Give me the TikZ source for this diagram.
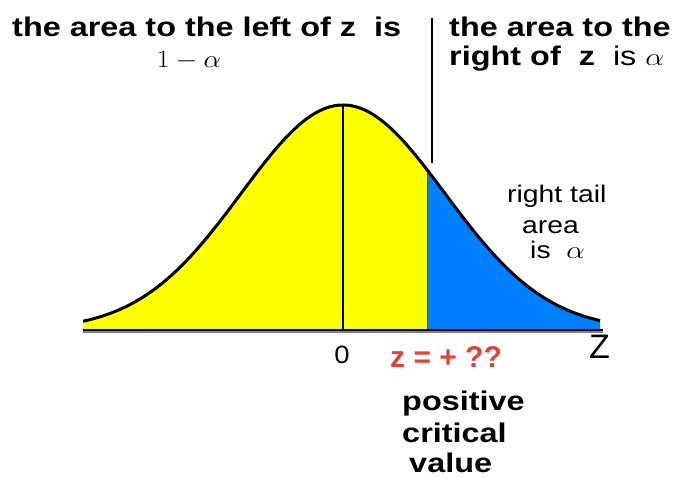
\documentclass[tikz,border=0pt]{standalone}
\usepackage{fontspec}
\setmainfont{Liberation Sans}

\definecolor{bodyyellow}{RGB}{255,255,0}
\definecolor{tailblue}{RGB}{0,128,255}
\definecolor{critred}{RGB}{221,68,55}

\tikzset{
  head/.style={font=\bfseries\fontsize{27}{30}\selectfont, xscale=1.2, inner sep=0pt, anchor=base west},
  note/.style={font=\fontsize{24}{26}\selectfont, xscale=1.18, inner sep=0pt, anchor=base west},
  plain/.style={inner sep=0pt, anchor=base west},
  curve/.style={line width=3pt, line join=round},
}

\begin{document}
\begin{tikzpicture}[x=1pt, y=1pt,
    declare function={bell(\x)=147+225*exp(-((\x-343)/102)^2/2);}]
    \useasboundingbox (0,0) rectangle (677,477);

    % Areas under the curve
    \fill[bodyyellow] (83,147) -- plot[domain=83:427, samples=90] (\x,{bell(\x)}) -- (427,147) -- cycle;
    \fill[tailblue] (427,147) -- plot[domain=427:600, samples=60] (\x,{bell(\x)}) -- (600,147) -- cycle;

    % Mean and critical value
    \coordinate (mid) at (343,147);
    \coordinate (peak) at (343,{bell(343)});
    \coordinate (crit) at (427,147);
    \coordinate (critTop) at (427,{bell(427)});
    \draw[line width=1.3pt] (mid) -- (peak);
    \draw[line width=1pt, black!80] (crit) -- (critTop);

    % Bell curve
    \draw[curve] plot[domain=83:600, samples=150] (\x,{bell(\x)});

    % Axis
    \coordinate (axL) at (83,147);
    \coordinate (axR) at (603,147);
    \draw[gray, line width=1.5pt] ([yshift=-2pt]axL) -- ([yshift=-2pt]axR);
    \draw[line width=2pt] (axL) -- (axR);

    % Separator between the two headings
    \coordinate (sepTop) at (432,459);
    \coordinate (sepBot) at (432,314);
    \draw[line width=2pt] (sepTop) -- (sepBot);

    % Headings
    \node[head] (leftA) at (12,440) {the area to the left of z~~is};
    \node[plain, anchor=base, font=\fontsize{27}{30}\selectfont, xscale=1.12] (leftB) at (189,409) {$1-\alpha$};
    \node[head] (rightA) at (449,440) {the area to the};
    \node[head] (rightB) at (449,411) {right of~~z~~{\mdseries is} $\alpha$};

    % Tail note
    \node[note] (tailA) at (507,274) {right tail};
    \node[note] (tailB) at (522,243) {area};
    \node[note] (tailC) at (530,218) {is~~$\alpha$};

    % Axis labels
    \node[plain, anchor=base, font=\fontsize{25}{28}\selectfont, xscale=1.1] (zero) at (342,114) {0};
    \node[plain, font=\bfseries\fontsize{30}{30}\selectfont, text=critred] (zval) at (390,110) {z = + ??};
    \node[plain, font=\fontsize{34}{34}\selectfont] (zaxis) at (589,119) {Z};

    % Critical value note
    \node[head] (posA) at (402,67) {positive};
    \node[head] (posB) at (402,35) {critical};
    \node[head] (posC) at (409,5) {value};
\end{tikzpicture}
\end{document}
